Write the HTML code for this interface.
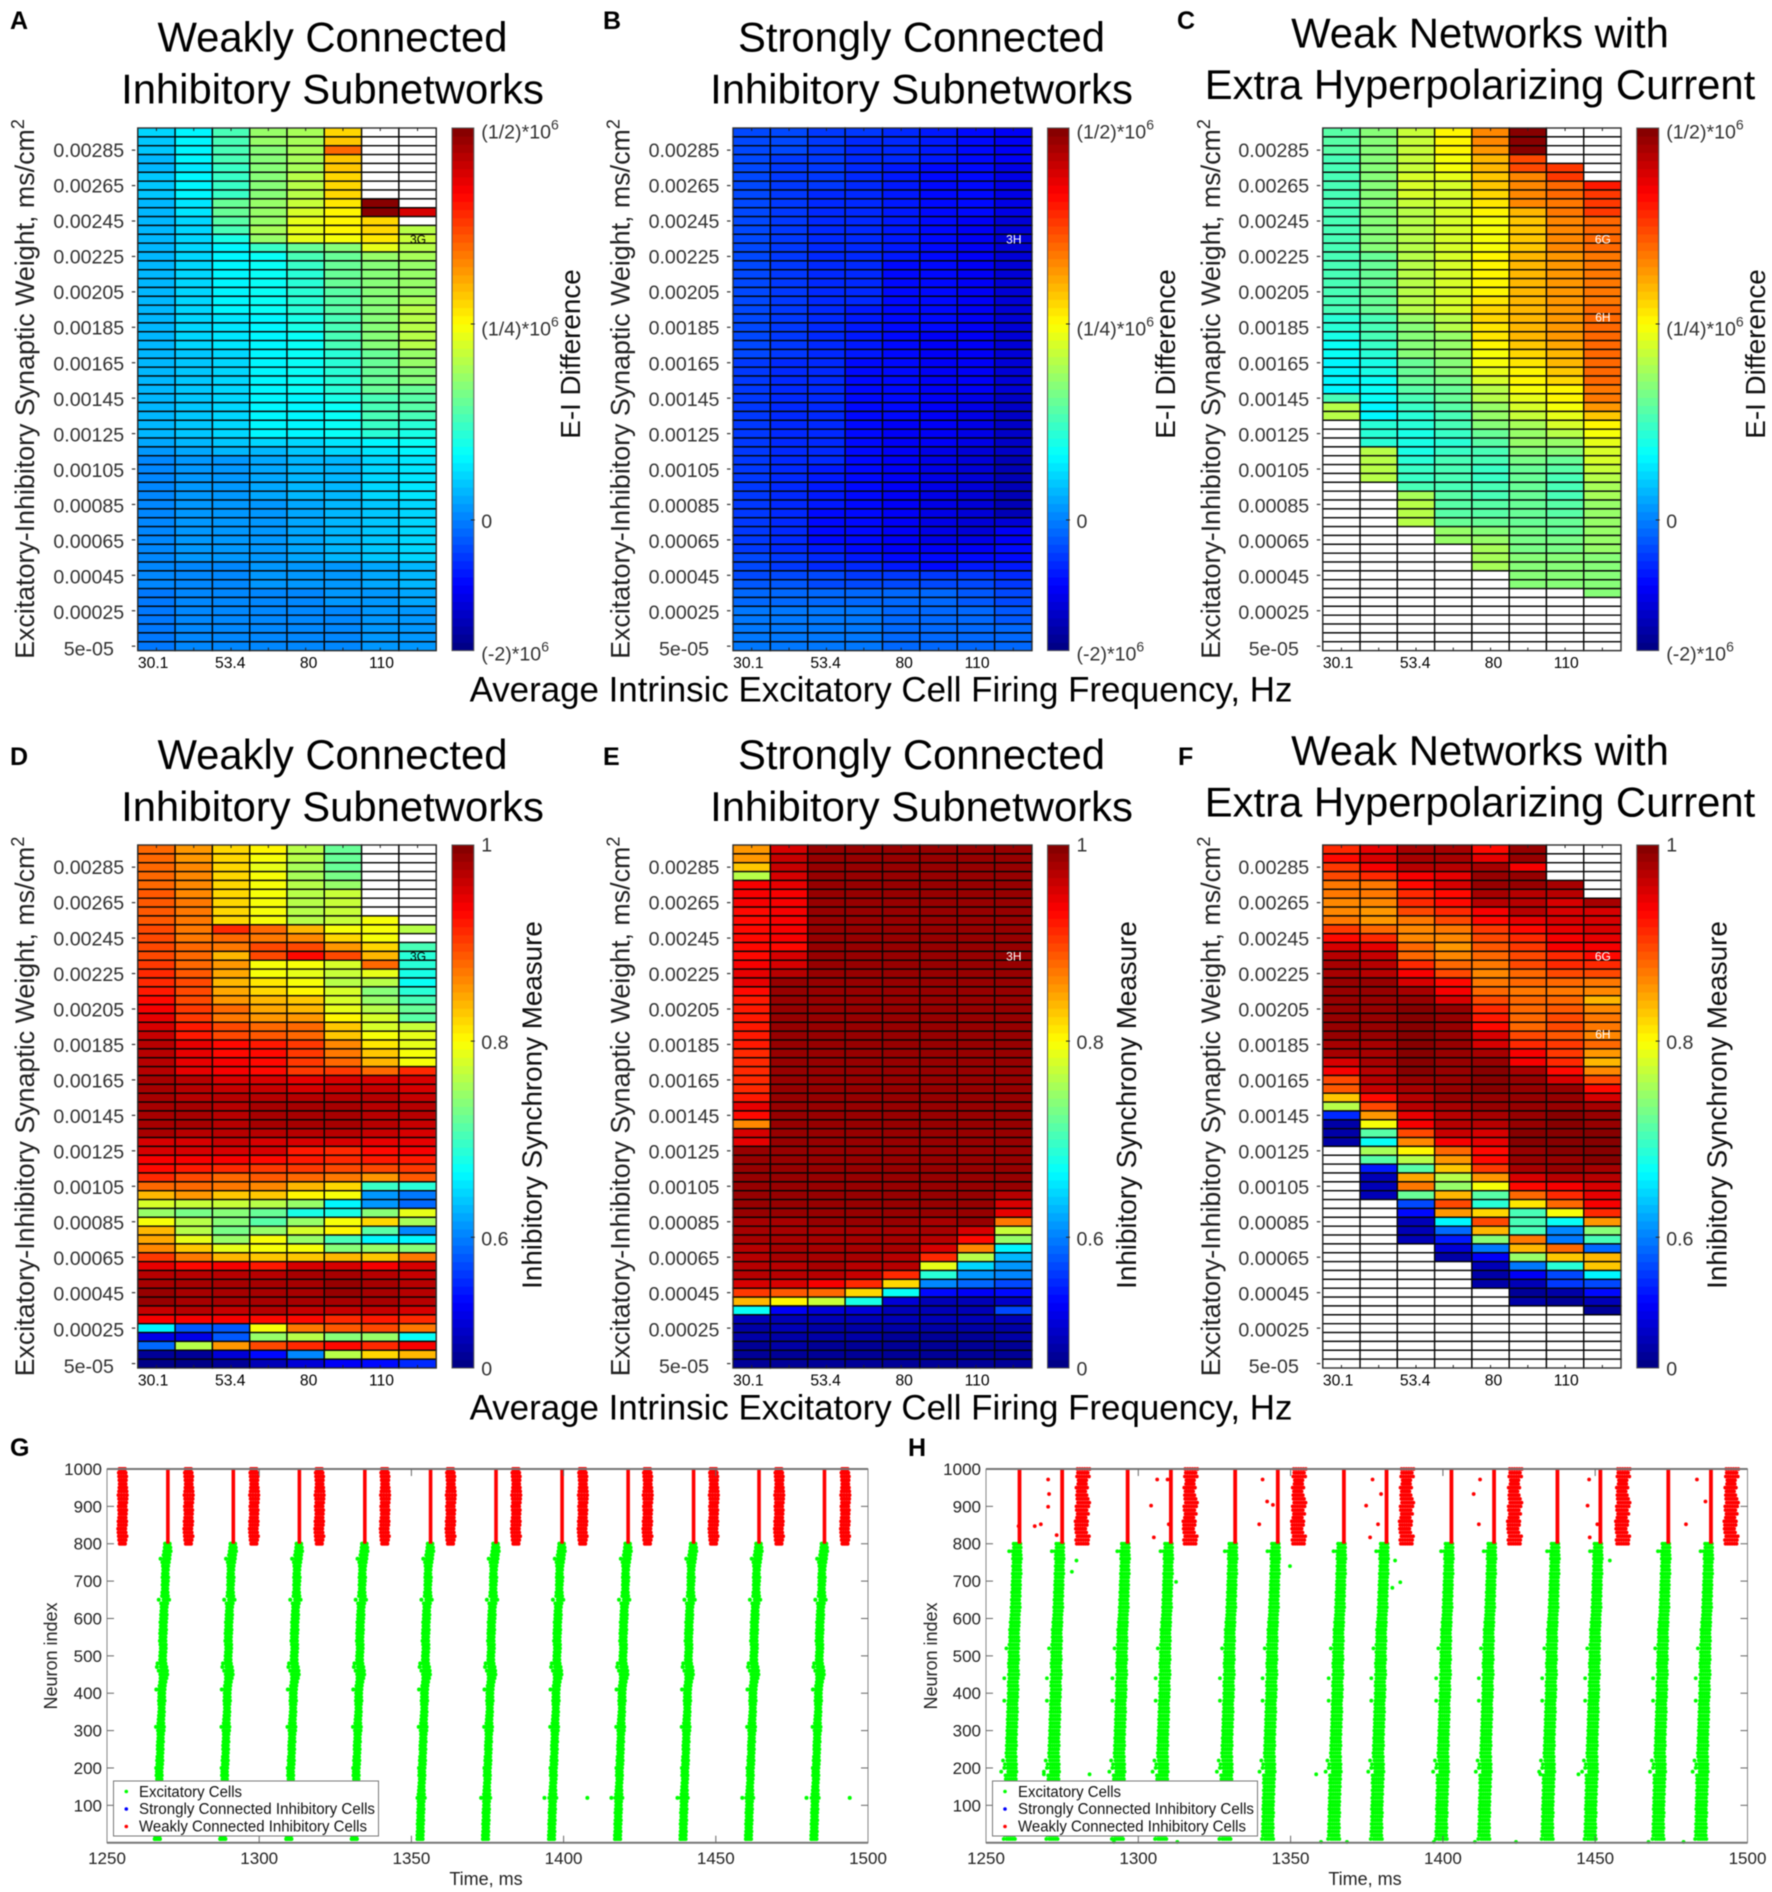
<!DOCTYPE html>
<html lang="en">
<head>
<meta charset="utf-8">
<title>Inhibitory synchrony heatmaps and raster plots</title>
<style>
html,body{margin:0;padding:0;background:#fff;}
svg{display:block;font-family:"Liberation Sans",sans-serif;filter:blur(0.4px);}
.title{font-size:41.8px;fill:#000;text-anchor:middle;}
.letter{font-size:25px;font-weight:bold;fill:#000;}
.ylab{font-size:26.8px;fill:#222;text-anchor:middle;}
.cblab{font-size:27.8px;fill:#111;text-anchor:middle;}
.xlab{font-size:34.9px;fill:#000;text-anchor:middle;}
.tick{font-size:19.6px;fill:#333;}
.cbt{font-size:19.6px;fill:#333;}
.xt{font-size:15.7px;fill:#000;text-anchor:middle;}
.note{font-size:12px;text-anchor:middle;}
.rt{font-size:17px;fill:#222;}
.rlab{font-size:18px;fill:#222;text-anchor:middle;}
.leg{font-size:15.5px;fill:#111;}
</style>
</head>
<body>
<svg id="figure" xmlns="http://www.w3.org/2000/svg" width="1772" height="1892" viewBox="0 0 1772 1892">
<rect width="1772" height="1892" fill="#fff"/>

<text class="letter" x="10" y="29">A</text>
<text class="title" x="332.5" y="51.5">Weakly Connected</text>
<text class="title" x="332.5" y="103.5">Inhibitory Subnetworks</text>
<text class="ylab" x="34" y="389" transform="rotate(-90 34 389)">Excitatory-Inhibitory Synaptic Weight, ms/cm<tspan dy="-10" font-size="18">2</tspan></text>
<text class="cblab" x="580" y="354" transform="rotate(-90 580 354)">E-I Difference</text>
<g id="panel-a"></g>

<text class="letter" x="603" y="29">B</text>
<text class="title" x="921.5" y="51.5">Strongly Connected</text>
<text class="title" x="921.5" y="103.5">Inhibitory Subnetworks</text>
<text class="ylab" x="629.5" y="389" transform="rotate(-90 629.5 389)">Excitatory-Inhibitory Synaptic Weight, ms/cm<tspan dy="-10" font-size="18">2</tspan></text>
<text class="cblab" x="1175" y="354" transform="rotate(-90 1175 354)">E-I Difference</text>
<g id="panel-b"></g>

<text class="letter" x="1177" y="29">C</text>
<text class="title" x="1480" y="47.5">Weak Networks with</text>
<text class="title" x="1480" y="99">Extra Hyperpolarizing Current</text>
<text class="ylab" x="1220" y="389" transform="rotate(-90 1220 389)">Excitatory-Inhibitory Synaptic Weight, ms/cm<tspan dy="-10" font-size="18">2</tspan></text>
<text class="cblab" x="1765" y="354" transform="rotate(-90 1765 354)">E-I Difference</text>
<g id="panel-c"></g>

<text class="xlab" x="881" y="701.5">Average Intrinsic Excitatory Cell Firing Frequency, Hz</text>

<text class="letter" x="10" y="765">D</text>
<text class="title" x="332.5" y="769">Weakly Connected</text>
<text class="title" x="332.5" y="821">Inhibitory Subnetworks</text>
<text class="ylab" x="34" y="1106.5" transform="rotate(-90 34 1106.5)">Excitatory-Inhibitory Synaptic Weight, ms/cm<tspan dy="-10" font-size="18">2</tspan></text>
<text class="cblab" x="541.5" y="1105" transform="rotate(-90 541.5 1105)">Inhibitory Synchrony Measure</text>
<g id="panel-d"></g>

<text class="letter" x="603" y="765">E</text>
<text class="title" x="921.5" y="769">Strongly Connected</text>
<text class="title" x="921.5" y="821">Inhibitory Subnetworks</text>
<text class="ylab" x="629.5" y="1106.5" transform="rotate(-90 629.5 1106.5)">Excitatory-Inhibitory Synaptic Weight, ms/cm<tspan dy="-10" font-size="18">2</tspan></text>
<text class="cblab" x="1136" y="1105" transform="rotate(-90 1136 1105)">Inhibitory Synchrony Measure</text>
<g id="panel-e"></g>

<text class="letter" x="1178" y="765">F</text>
<text class="title" x="1480" y="765">Weak Networks with</text>
<text class="title" x="1480" y="816.5">Extra Hyperpolarizing Current</text>
<text class="ylab" x="1220" y="1106.5" transform="rotate(-90 1220 1106.5)">Excitatory-Inhibitory Synaptic Weight, ms/cm<tspan dy="-10" font-size="18">2</tspan></text>
<text class="cblab" x="1726.5" y="1105" transform="rotate(-90 1726.5 1105)">Inhibitory Synchrony Measure</text>
<g id="panel-f"></g>

<text class="xlab" x="881" y="1419.5">Average Intrinsic Excitatory Cell Firing Frequency, Hz</text>

<text class="letter" x="10" y="1456">G</text>
<text class="rlab" x="57" y="1656" transform="rotate(-90 57 1656)">Neuron index</text>
<text class="rlab" x="486" y="1885">Time, ms</text>
<g id="raster-g"></g>
<g>
<rect x="113.5" y="1781" width="265" height="55" fill="#fff" stroke="#777" stroke-width="1"/>
<circle cx="126.3" cy="1791.5" r="1.8" fill="#00ff00"/>
<text class="leg" x="139" y="1797" textLength="103" lengthAdjust="spacingAndGlyphs">Excitatory Cells</text>
<circle cx="126.3" cy="1809" r="1.8" fill="#0000ff"/>
<text class="leg" x="139" y="1814" textLength="236" lengthAdjust="spacingAndGlyphs">Strongly Connected Inhibitory Cells</text>
<circle cx="126.3" cy="1826.5" r="1.8" fill="#ff0000"/>
<text class="leg" x="139" y="1831.5" textLength="228" lengthAdjust="spacingAndGlyphs">Weakly Connected Inhibitory Cells</text>
</g>

<text class="letter" x="908" y="1456">H</text>
<text class="rlab" x="937" y="1656" transform="rotate(-90 937 1656)">Neuron index</text>
<text class="rlab" x="1365" y="1885">Time, ms</text>
<g id="raster-h"></g>
<g>
<rect x="992.5" y="1781" width="265" height="55" fill="#fff" stroke="#777" stroke-width="1"/>
<circle cx="1005" cy="1791.5" r="1.8" fill="#00ff00"/>
<text class="leg" x="1018" y="1797" textLength="103" lengthAdjust="spacingAndGlyphs">Excitatory Cells</text>
<circle cx="1005" cy="1809" r="1.8" fill="#0000ff"/>
<text class="leg" x="1018" y="1814" textLength="236" lengthAdjust="spacingAndGlyphs">Strongly Connected Inhibitory Cells</text>
<circle cx="1005" cy="1826.5" r="1.8" fill="#ff0000"/>
<text class="leg" x="1018" y="1831.5" textLength="228" lengthAdjust="spacingAndGlyphs">Weakly Connected Inhibitory Cells</text>
</g>
</svg>

<script>
const _ = null;
/* ---- heatmap values: colour-scale level 0-100, one array per frequency column, rows listed top to bottom ---- */
const yTickLabels = ['5e-05','0.00025','0.00045','0.00065','0.00085','0.00105','0.00125','0.00145','0.00165','0.00185','0.00205','0.00225','0.00245','0.00265','0.00285'];
const xTickLabels = ['30.1','53.4','80','110'];
const eiBarLabels = ['(-2)*10','0','(1/4)*10','(1/2)*10'];
const syncBarLabels = ['0','0.6','0.8','1'];

const weakEI = [
[33,32,32,31,31,32,32,32,31,31, 31,31,31,31,31,31,31,31,31,31, 31,31,31,31,31,30,30,30,30,30, 30,30,30,30,30,29,28,26,26,26, 26,26,26,26,26,26,26,26,26,25, 25,25,24,24,24,24,24,24,24],
[37,37,36,36,35,37,37,36,35,35, 34,34,34,34,33,33,33,33,33,33, 33,33,33,33,33,32,32,32,32,32, 32,32,32,32,32,30,29,27,27,27, 27,27,27,27,27,27,27,27,27,26, 26,26,25,25,25,25,25,25,25],
[44,44,44,44,43,43,43,43,47,47, 46,45,40,37,36,36,36,36,36,36, 36,35,35,35,35,34,34,34,34,34, 34,34,34,34,34,32,30,28,28,28, 28,28,28,28,28,28,28,28,28,26, 26,26,25,25,25,25,25,25,25],
[52,52,51,50,50,50,50,50,53,53, 53,54,53,43,39,38,38,38,38,38, 38,37,37,37,37,36,36,36,36,36, 36,36,36,36,36,33,31,29,29,29, 29,29,28,28,28,28,28,28,28,27, 27,27,26,25,25,25,25,25,25],
[54,54,54,54,54,55,55,55,57,58, 60,60,60,47,44,43,42,42,42,41, 41,40,40,39,39,38,38,38,38,38, 37,37,37,37,37,34,32,30,30,30, 30,30,29,29,29,29,29,29,29,27, 27,27,26,26,26,26,26,26,26],
[67,68,78,68,68,66,66,66,65,64, 63,63,62,50,48,47,47,47,46,46, 46,45,45,45,45,42,42,42,42,42, 40,39,39,39,38,35,33,31,31,31, 31,31,30,30,30,30,30,30,30,28, 28,28,27,27,26,26,26,26,26],
[_,_,_,_,_,_,_,_,100,100, 66,66,65,60,52,50,50,50,50,50, 50,50,50,50,50,47,47,47,47,47, 44,44,44,43,42,37,35,33,33,33, 33,33,32,32,32,32,32,32,32,29, 29,29,27,27,27,27,27,27,27],
[_,_,_,_,_,_,_,_,_,91, _,56,57,56,54,53,53,53,53,54, 55,56,56,56,56,52,52,51,50,48, 46,46,44,42,40,38,36,35,35,35, 35,35,34,34,34,34,34,34,34,31, 31,30,29,29,28,28,28,28,28]
];
const strongEI = [
[20,19,19,19,20,20,20,19,19,19, 19,19,19,19,19,19,19,19,19,19, 19,19,19,19,19,19,18,18,18,18, 18,18,18,18,18,18,18,18,18,18, 18,18,18,18,18,18,18,18,19,19, 20,21,23,23,24,24,24,24,24],
[19,19,19,18,18,18,18,18,18,18, 18,18,18,18,18,18,18,18,18,18, 18,18,18,18,18,18,17,17,17,17, 17,17,17,17,17,17,17,17,17,17, 16,16,16,16,16,16,16,17,18,18, 20,21,23,23,24,24,24,24,24],
[18,18,18,18,18,18,18,17,17,17, 17,17,17,17,17,17,17,17,17,17, 17,17,17,17,17,17,16,16,16,16, 16,16,16,16,16,16,16,16,15,15, 15,15,15,14,14,14,14,15,16,17, 19,20,23,23,24,24,24,24,24],
[18,17,17,17,17,17,17,17,16,16, 16,16,16,16,16,16,16,16,16,16, 15,15,15,15,15,15,14,14,14,14, 14,14,14,14,14,14,14,14,13,13, 13,13,13,13,13,13,13,14,15,16, 18,19,23,23,24,24,24,24,24],
[17,17,16,16,15,15,15,15,15,15, 15,15,15,15,15,14,14,14,14,14, 14,14,14,14,14,13,13,13,13,13, 13,13,13,12,12,12,12,12,12,12, 11,11,11,11,11,11,11,12,14,15, 18,19,23,23,23,23,23,23,23],
[15,15,15,15,14,14,14,14,14,14, 14,14,13,13,13,13,13,13,13,13, 13,13,13,12,12,12,12,12,12,12, 11,11,11,11,11,11,10,10,10,10, 10,10,10,10,10,10,10,11,13,14, 18,19,22,22,23,23,23,23,23],
[14,14,14,14,13,13,13,13,13,13, 12,12,12,12,12,12,12,12,11,11, 11,11,11,11,11,11,11,11,11,11, 10,10,10,10,10,10,9,9,9,9, 8,8,8,8,9,9,10,11,13,15, 18,19,21,21,22,22,23,23,23],
[11,11,11,11,10,10,10,10,10,10, 9,9,9,9,9,9,9,9,8,8, 8,8,8,8,8,8,8,8,8,8, 7,7,7,7,7,7,7,6,6,6, 6,6,6,6,8,12,12,13,14,15, 17,18,20,20,21,21,22,22,22]
];
const hyperEI = [
[46,46,46,45,45,45,45,45,45,45, 45,45,45,45,45,45,44,44,44,44, 44,42,42,40,38,38,37,36,36,36, 44,56,55,_,_,_,_,_,_,_, _,_,_,_,_,_,_,_,_,_, _,_,_,_,_,_,_,_,_],
[50,50,51,51,51,51,51,51,51,51, 51,50,50,50,48,48,48,48,48,47, 47,44,44,44,43,41,40,40,39,38, 38,36,36,42,42,42,55,56,56,55, _,_,_,_,_,_,_,_,_,_, _,_,_,_,_,_,_,_,_],
[57,57,57,57,57,58,58,58,57,56, 56,56,56,56,56,56,56,55,55,55, 55,52,50,50,50,50,48,47,47,46, 44,43,42,41,40,40,40,42,43,43, 44,54,55,55,55,_,_,_,_,_, _,_,_,_,_,_,_,_,_],
[64,63,63,62,62,60,59,59,59,59, 59,59,59,59,59,58,58,58,58,58, 58,56,55,52,52,52,51,50,49,48, 47,46,45,44,43,42,43,44,44,45, 45,46,46,46,48,53,53,_,_,_, _,_,_,_,_,_,_,_,_],
[74,74,72,70,69,68,68,67,65,64, 62,62,62,62,63,63,63,64,64,65, 66,66,65,65,64,62,61,60,58,56, 55,53,52,50,48,46,45,44,43,43, 44,45,46,46,48,50,52,54,54,54, _,_,_,_,_,_,_,_,_],
[100,100,100,80,80,74,74,74,74,70, 68,68,68,68,69,69,69,70,70,70, 70,70,70,69,68,66,65,64,63,62, 60,58,57,54,53,52,50,49,48,48, 47,47,47,48,48,49,49,49,50,50, 50,50,_,_,_,_,_,_,_],
[_,_,_,_,82,82,78,78,76,75, 74,74,74,74,73,73,73,73,73,73, 73,73,73,72,71,70,69,68,66,64, 63,62,60,58,55,52,50,47,46,44, 44,45,46,46,47,48,49,49,50,50, 50,50,_,_,_,_,_,_,_],
[_,_,_,_,_,_,85,82,82,82, 78,78,77,77,76,76,76,76,76,76, 77,77,77,77,78,78,78,78,78,76, 75,72,68,64,62,60,59,58,57,56, 54,54,53,53,52,52,52,52,51,51, 51,51,50,_,_,_,_,_,_]
];
const weakSync = [
[77,77,78,78,78,79,79,79,79,80, 80,81,81,82,83,84,85,87,89,90, 91,93,94,94,95,95,96,96,96,96, 96,96,96,92,92,89,87,83,77,70, 58,52,62,69,71,74,82,90,95,96, 97,97,93,88,37,10,22,3,1],
[73,73,74,74,74,74,75,75,75,75, 76,77,77,78,79,80,80,80,82,82, 85,85,90,90,90,90,94,95,95,96, 96,96,95,92,92,89,85,80,77,72, 57,49,56,56,60,68,76,87,95,96, 96,96,94,88,21,10,56,3,1],
[67,67,67,66,66,66,66,66,66,84, 78,76,69,72,71,70,71,72,78,76, 80,80,87,87,88,88,92,93,94,95, 95,95,94,93,92,88,84,78,76,68, 57,50,50,49,52,60,70,88,94,96, 96,96,93,88,21,21,72,8,3],
[63,62,60,62,62,62,62,62,62,78, 76,80,80,62,62,65,67,70,71,72, 77,79,85,86,87,87,92,93,95,96, 96,96,95,92,92,86,82,79,74,68, 56,48,46,53,61,62,68,85,95,96, 96,96,94,87,62,52,80,14,6],
[55,55,54,54,55,55,56,56,56,70, 74,80,86,62,60,62,64,68,70,73, 78,78,82,82,82,82,90,92,94,96, 96,96,95,92,85,85,82,78,70,64, 52,40,52,58,53,62,68,92,96,96, 96,96,93,86,76,55,83,25,8],
[47,47,48,49,52,57,57,57,57,62, 66,72,81,59,57,56,58,59,60,63, 68,68,74,76,78,82,92,93,94,96, 96,96,95,92,84,84,80,76,66,62, 36,40,62,63,44,50,70,92,96,97, 97,96,93,84,79,50,86,56,12],
[_,_,_,_,_,_,_,_,62,62, 62,66,69,78,60,56,50,53,56,58, 59,62,65,68,70,78,92,93,94,95, 95,94,93,90,86,85,80,73,43,27, 27,50,66,46,37,52,68,88,95,96, 96,96,93,85,80,52,84,66,13],
[_,_,_,_,_,_,_,_,_,55, _,45,42,41,40,38,42,44,48,46, 57,60,60,62,61,84,92,92,93,94, 94,93,92,90,88,85,82,79,41,24, 22,60,54,25,36,50,75,92,93,94, 94,94,92,84,76,38,88,70,16]
];
const strongSync = [
[72,72,68,56,88,88,88,87,87,87, 87,87,87,88,90,90,86,85,85,85, 85,85,85,83,83,84,84,84,85,90, 87,74,92,90,97,97,97,97,97,97, 97,97,96,96,96,95,95,95,94,92, 82,69,38,5,4,4,3,3,3],
[92,93,93,92,90,88,88,88,88,88, 88,86,92,92,94,97,97,97,97,97, 97,97,97,97,97,97,97,97,97,97, 97,97,97,97,97,97,97,97,97,97, 97,97,96,96,96,96,96,95,94,92, 79,64,12,5,5,4,4,3,3],
[97,97,97,97,97,97,98,98,98,98, 98,98,98,98,98,98,98,98,98,98, 98,97,97,97,97,97,97,97,97,97, 97,97,97,97,97,97,97,97,97,97, 97,97,97,96,96,96,96,96,94,88, 77,57,8,5,4,4,3,3,3],
[97,98,98,98,98,98,98,98,98,98, 98,98,98,98,98,98,98,98,98,98, 98,98,98,97,97,97,97,97,97,97, 97,97,97,97,97,97,97,97,97,97, 97,97,97,96,96,96,96,95,93,83, 67,40,8,5,4,4,3,3,3],
[98,98,98,98,98,98,98,98,98,98, 98,98,98,98,98,98,98,98,98,98, 98,98,98,98,98,98,98,98,98,98, 98,98,98,98,97,97,97,97,97,97, 97,97,97,96,96,96,95,94,84,67, 38,8,6,5,4,3,3,2,2],
[98,98,98,98,98,98,98,98,98,98, 98,98,98,98,98,98,98,98,98,98, 98,98,98,98,98,98,98,98,98,98, 98,98,98,98,97,97,97,97,97,97, 97,97,96,96,94,92,84,60,41,26, 14,6,6,5,4,3,3,2,2],
[98,98,98,98,98,98,98,98,98,98, 98,98,98,98,98,98,98,98,98,98, 98,98,98,98,98,98,98,98,98,98, 98,98,98,98,97,97,97,97,97,97, 97,97,97,91,87,74,55,33,28,23, 12,5,6,5,4,3,3,2,2],
[97,97,97,98,98,98,98,98,98,98, 98,98,97,97,97,97,97,97,97,97, 97,97,97,97,97,97,97,97,97,97, 97,97,97,97,97,97,97,97,97,94, 92,90,75,57,52,36,30,27,25,20, 14,7,20,5,4,4,3,3,2]
];
const hyperSync = [
[84,86,82,80,75,76,74,74,76,82, 87,92,95,96,96,97,97,97,97,97, 97,97,96,96,92,88,80,79,68,56, 17,4,4,4,_,_,_,_,_,_, _,_,_,_,_,_,_,_,_,_, _,_,_,_,_,_,_,_,_],
[90,92,88,84,76,76,74,73,73,78, 84,90,93,94,95,98,98,98,97,97, 97,97,96,96,96,95,94,93,86,81, 73,62,46,38,54,46,15,5,5,5, _,_,_,_,_,_,_,_,_,_, _,_,_,_,_,_,_,_,_],
[96,96,94,88,87,84,84,80,76,74, 74,77,78,84,88,92,96,97,100,100, 100,100,100,100,99,99,98,96,95,94, 90,88,80,74,64,56,46,71,76,47, 20,13,5,5,5,_,_,_,_,_, _,_,_,_,_,_,_,_,_],
[96,96,95,90,91,86,86,83,80,76, 74,73,74,78,80,86,88,92,98,98, 98,98,98,98,98,98,98,98,97,96, 95,94,93,88,78,72,68,56,52,70, 80,72,37,23,15,8,4,_,_,_, _,_,_,_,_,_,_,_,_],
[86,90,96,98,97,96,94,88,86,82, 81,79,78,75,74,76,78,80,84,85, 86,92,92,96,98,99,99,99,98,98, 96,94,92,90,87,87,82,72,62,46, 42,66,81,69,50,24,12,5,4,4, _,_,_,_,_,_,_,_,_],
[97,97,88,97,97,94,94,94,90,86, 84,82,81,80,78,77,76,78,78,78, 78,81,84,88,88,96,97,97,97,98, 98,98,99,99,98,98,96,92,86,78, 65,44,44,45,76,70,52,24,12,6, 3,4,_,_,_,_,_,_,_],
[_,_,_,_,96,94,92,92,91,90, 88,88,84,84,81,78,76,77,79,80, 80,79,82,82,84,86,92,97,98,98, 99,99,99,99,99,98,98,95,88,84, 78,62,38,26,24,78,68,42,20,18, 4,3,_,_,_,_,_,_,_],
[_,_,_,_,_,_,96,92,92,92, 90,88,87,84,80,76,74,70,74,76, 76,74,78,72,70,74,80,86,92,96, 98,98,99,100,100,99,96,94,92,90, 88,84,73,50,44,22,70,68,36,19, 13,5,3,_,_,_,_,_,_]
];

/* ---- raster values, in ms and neuron index ---- */
const rasterXTicks = [1250,1300,1350,1400,1450,1500];
const rasterYTicks = [100,200,300,400,500,600,700,800,900,1000];
const gBurstTimes = [1270,1291.5,1313.2,1334.7,1356.3,1377.8,1399.5,1421.2,1442.7,1464.2,1485.7];
const gWeakTimes = [1255.1,1276.8,1298.3,1319.8,1341.3,1362.9,1384.4,1406.3,1427.6,1449.3,1470.8,1492.5];
/* excitatory burst edge relative to burst time, neuron 800 down to 10 in steps of 10 */
const gExcLeft = [-0.9,-1.0,-1.2,-1.4,-2.4,-1.8,-1.6,-1.5,-1.6,-1.7, -1.6,-1.7,-1.6,-1.8,-1.9,-3.0,-2.2,-2.0,-2.1,-2.2, -2.2,-2.4,-2.3,-2.4,-2.5,-2.4,-2.6,-2.4,-2.3,-2.4, -2.5,-2.5,-3.4,-3.6,-3.0,-2.5,-2.4,-2.5,-2.7,-3.8, -2.8,-2.8,-2.9,-2.8,-2.7,-2.8,-2.9,-3.0,-3.1,-3.9, -3.2,-3.1,-3.1,-3.2,-3.3,-3.3,-3.2,-3.4,-3.5,-3.4, -3.8,-3.6,-3.7,-3.5,-3.6,-3.7,-3.8,-3.9,-4.2,-3.9, -3.9,-4.0,-4.1,-4.0,-4.1,-4.2,-4.1,-4.2,-4.3,-4.3];
const gExcRight = [0.6,0.8,0.9,0.6,0.5,0.3,0.1,0.0,-0.1,0.1, 0.0,-0.1,-0.2,-0.1,0.0,0.4,-0.2,-0.4,-0.5,-0.4, -0.5,-0.6,-0.7,-0.6,-0.7,-0.8,-0.8,-0.7,-0.7,-0.8, -0.9,-0.9,-0.8,-0.5,-0.3,-0.2,-0.5,-0.8,-1.0,-1.1, -1.2,-1.2,-1.1,-1.3,-1.4,-1.3,-1.4,-1.5,-1.5,-1.3, -1.4,-1.6,-1.7,-1.6,-1.8,-1.7,-1.8,-1.9,-1.8,-1.9, -2.0,-2.1,-2.0,-2.1,-2.2,-2.3,-2.2,-2.2,-1.9,-2.3, -2.4,-2.3,-2.4,-2.5,-2.4,-2.5,-2.6,-2.5,-2.6,-2.6];
/* weak inhibitory cluster edge relative to cluster time, neuron 800 up to 1000 in steps of 10 */
const gWeakLeft = [-0.9,-1.1,-1.2,-1.3,-1.4,-1.2,-1.3,-1.1,-1.0,-1.1,-1.2,-1.0,-1.1,-1.3,-1.1,-1.0,-0.9,-1.0,-1.1,-1.2,-1.0];
const gWeakRight = [0.8,1.0,1.3,1.0,0.9,1.1,1.2,1.0,1.1,1.2,1.0,1.2,1.3,1.4,1.3,1.2,1.0,1.1,1.2,1.0,0.8];
const gStrayTimes = [1352,1372.9,1393.7,1407.8,1415.7,1437.4,1458.7,1479.8,1494];
const gStrayNeurons = [120,120,120,120,120,120,120,120,120];

const hBurstTimes = [1261,1275,1296.5,1310.7,1331.8,1345.8,1367.5,1381.5,1402.8,1416.8,1437.6,1451.7,1474,1488];
const hWeakTimes = [1281.6,1317,1352.6,1388,1423.5,1459,1494.6];
const hExcLeft = [-1.9,-1.8,-3.4,-2.0,-2.1,-1.9,-2.1,-2.0,-2.2,-2.1, -2.2,-2.3,-2.2,-2.4,-2.3,-2.5,-2.4,-2.6,-2.5,-2.6, -2.7,-2.9,-2.8,-3.1,-3.0,-3.1,-3.0,-3.3,-4.3,-3.3, -3.2,-3.3,-3.5,-3.4,-3.2,-3.5,-5.0,-3.5,-3.6,-3.4, -3.6,-3.5,-5.0,-3.7,-3.6,-3.8,-3.7,-3.9,-3.8,-3.9, -4.0,-3.9,-4.1,-4.0,-4.2,-4.1,-4.3,-4.2,-5.4,-4.8, -5.0,-6.0,-4.6,-4.5,-4.6,-4.4,-4.6,-4.5,-4.7,-4.6, -4.7,-4.8,-4.6,-4.8,-4.7,-4.9,-4.8,-5.0,-4.9,-5.2];
const hExcRight = [0.3,0.4,0.3,0.4,0.5,0.3,0.2,0.3,0.4,0.2, 0.1,0.2,0.1,0.0,0.1,-0.1,0.0,0.1,-0.1,-0.2, -0.3,-0.2,-0.3,-0.4,-0.5,-0.4,-0.3,-0.5,-0.4,-0.6, -0.5,-0.4,-0.6,-0.7,-0.5,-0.4,-0.6,-0.8,-0.7,-0.6, -0.8,-0.7,-0.9,-1.0,-0.9,-0.8,-1.0,-0.9,-1.1,-1.0, -1.2,-1.1,-1.3,-1.2,-1.1,-1.3,-1.4,-1.2,-1.3,-1.1, -1.2,-1.0,-1.3,-1.2,-1.4,-1.3,-1.5,-1.4,-1.6,-1.5, -1.6,-1.7,-1.5,-1.6,-1.8,-1.7,-1.6,-1.8,-1.7,-1.5];
const hWeakLeft = [-1.8,-2.0,-1.6,-1.9,-2.1,-2.0,-2.2,-1.7,-1.5,-1.8,-1.9,-1.4,-1.6,-1.7,-1.5,-1.9,-1.3,-1.2,-1.7,-1.4,-1.6];
const hWeakRight = [1.8,1.9,2.2,1.3,1.0,1.5,1.6,1.1,1.9,1.4,2.0,2.3,1.8,1.4,1.0,1.6,1.2,1.3,2.2,1.8,2.4];
const hStrayGreenTimes = [1279.7,1278.2,1312.4,1349.8,1384.3,1386,1383.4,1454.8,1284,1269,1358.4,1444.5,1432,1292,1312.8,1360,1368.5,1397,1410.5,1424,1467.5,1479];
const hStrayGreenNeurons = [755,725,698,740,755,697,682,755,183,183,183,183,183,2,2,2,2,2,2,2,2,2];
const hStrayRedTimes = [1270.4,1270.7,1270.4,1266,1268,1260.7,1273.2,1306.2,1304.2,1305.1,1310,1309.6,1340.8,1342.3,1339.7,1344.2,1376.9,1379.7,1374.8,1378.7,1376.1,1412.2,1410.1,1411.8,1448,1447.5,1448.2,1450.7,1483.4,1479.8,1486.2];
const hStrayRedNeurons = [972,933,899,847,852,847,823,972,902,817,852,972,972,913,852,904,972,933,902,852,817,972,933,852,972,902,817,852,972,852,913];

const NS = 'http://www.w3.org/2000/svg';
function make(tag, parent, attrs, name) {
  const node = document.createElementNS(NS, tag);
  for (const k in attrs) node.setAttribute(k, attrs[k]);
  
  
  parent.appendChild(node);
  return node;
}
function jet(level) {
  const idx = Math.min(63, Math.max(0, Math.floor(level / 100 * 64)));
  const t = (idx + 0.5) / 64;
  const c = v => Math.round(255 * Math.max(0, Math.min(1, v)));
  const r = c(Math.min(4 * t - 1.5, -4 * t + 4.5));
  const g = c(Math.min(4 * t - 0.5, -4 * t + 3.5));
  const b = c(Math.min(4 * t + 0.5, -4 * t + 2.5));
  return 'rgb(' + r + ',' + g + ',' + b + ')';
}

function drawHeatmap(id, columns, box, barLabels, notes, barExp, barYOffsets) {
  const root = document.getElementById(id);
  const nCols = columns.length, nRows = 59;
  const colW = box.w / nCols, rowH = box.h / nRows;
  const xOf = c => box.x + c * colW;
  const yOf = r => box.y + r * rowH;
  columns.forEach((column, c) => {
    for (let r = 0; r < nRows; r++) {
      const value = column[r];
      const fill = (value === null || value === undefined) ? '#ffffff' : jet(value);
      make('rect', root, {x: xOf(c), y: yOf(r), width: colW, height: rowH, fill: fill, stroke: '#050505', 'stroke-width': 1.35}, 'heatmap-cell');
    }
  });
  make('rect', root, {x: box.x, y: box.y, width: box.w, height: box.h, fill: 'none', stroke: '#333', 'stroke-width': 1}, 'plot-frame');
  for (let c = 0; c < nCols; c++) {
    const cx = xOf(c + 0.5);
    make('line', root, {x1: cx, x2: cx, y1: box.y, y2: box.y + 3, stroke: '#222', 'stroke-width': 1}, 'x-tick-top');
    make('line', root, {x1: cx, x2: cx, y1: box.y + box.h, y2: box.y + box.h - 3, stroke: '#222', 'stroke-width': 1}, 'x-tick-bottom');
  }
  yTickLabels.forEach((label, i) => {
    const y = yOf(nRows - 0.5 - i * 4);
    make('line', root, {x1: box.x - 6, x2: box.x - 2.5, y1: y, y2: y, stroke: '#333', 'stroke-width': 1.2}, 'y-tick');
    const labelShift = 7 + (14 - i) * 0.09 + (i === 0 ? 1.2 : 0);
    const t = make('text', root, {x: box.x - 49, y: y + labelShift, 'class': 'tick', 'text-anchor': 'middle'}, 'y-tick-label');
    t.textContent = label;
  });
  const nudges = [-3.3, -0.8, 3, 1.2];
  xTickLabels.forEach((label, i) => {
    const t = make('text', root, {x: xOf(i * 2 + 0.5) + nudges[i], y: box.y + box.h + 17.5, 'class': 'xt'}, 'x-tick-label');
    t.textContent = label;
  });
  notes.forEach(n => {
    const t = make('text', root, {x: xOf(7.5) + 0.5, y: yOf(n.row + 0.5) + 4, 'class': 'note', fill: n.color}, 'panel-reference-label');
    t.textContent = n.text;
  });
  /* colorbar */
  const bh = box.h / 64;
  for (let i = 0; i < 64; i++) {
    const level = (i + 0.5) / 64 * 100;
    make('rect', root, {x: box.cbx, y: box.y + box.h - (i + 1) * bh, width: box.cbw, height: bh + 0.4, fill: jet(level)}, 'colorbar-segment');
  }
  make('rect', root, {x: box.cbx, y: box.y, width: box.cbw, height: box.h, fill: 'none', stroke: '#555', 'stroke-width': 1}, 'colorbar-frame');
  const tickFrac = [0, 0.25, 0.625, 1];
  barLabels.forEach((label, i) => {
    const y = box.y + box.h * (1 - tickFrac[i]);
    if (i > 0 && i < 3) {
      make('line', root, {x1: box.cbx + box.cbw - 3, x2: box.cbx + box.cbw + 1, y1: y, y2: y, stroke: '#222', 'stroke-width': 1}, 'colorbar-tick');
    }
    const t = make('text', root, {x: box.cbx + box.cbw + 7.5, y: y + barYOffsets[i], 'class': 'cbt'}, 'colorbar-tick-label');
    t.textContent = label;
    if (barExp && label.indexOf('*10') >= 0) {
      const sup = make('tspan', t, {dy: -9, 'font-size': 14}, 'colorbar-exponent');
      sup.textContent = '6';
    }
  });
}

const top1 = 128, h1 = 522.6, top2 = 845, h2 = 523;
const eiOffsets = [10, 8, 11.6, 10.5];
const syncOffsets = [7.5, 8, 8, 6.7];
drawHeatmap('panel-a', weakEI, {x:137.8, y:top1, w:298.4, h:h1, cbx:452, cbw:21.8}, eiBarLabels, [{text:'3G', row:12.1, color:'#000'}], true, eiOffsets);
drawHeatmap('panel-b', strongEI, {x:733, y:top1, w:299, h:h1, cbx:1047.5, cbw:21.5}, eiBarLabels, [{text:'3H', row:12.1, color:'#fff'}], true, eiOffsets);
drawHeatmap('panel-c', hyperEI, {x:1322.8, y:top1, w:298.2, h:h1, cbx:1636.8, cbw:21.9}, eiBarLabels, [{text:'6G', row:12.1, color:'#fff'},{text:'6H', row:20.9, color:'#fff'}], true, eiOffsets);
drawHeatmap('panel-d', weakSync, {x:137.8, y:top2, w:298.4, h:h2, cbx:452, cbw:21.8}, syncBarLabels, [{text:'3G', row:12.1, color:'#000'}], false, syncOffsets);
drawHeatmap('panel-e', strongSync, {x:733, y:top2, w:299, h:h2, cbx:1047.5, cbw:21.5}, syncBarLabels, [{text:'3H', row:12.1, color:'#fff'}], false, syncOffsets);
drawHeatmap('panel-f', hyperSync, {x:1322.8, y:top2, w:298.2, h:h2, cbx:1636.8, cbw:21.9}, syncBarLabels, [{text:'6G', row:12.1, color:'#fff'},{text:'6H', row:20.9, color:'#fff'}], false, syncOffsets);

function drawRaster(id, box, cfg) {
  const root = document.getElementById(id);
  const xOf = t => box.x + (t - 1250) / 250 * box.w;
  const yOf = n => box.y + (1000 - n) / 1000 * box.h;
  const r = cfg.r;
  const dot = (t, n, fill, name) => make('circle', root, {cx: xOf(t), cy: yOf(n), r: r, fill: fill}, name);
  cfg.burstTimes.forEach(b => {
    cfg.excLeft.forEach((left, i) => {
      const n = 800 - i * 10;
      const right = cfg.excRight[i];
      /* the edge spike is always drawn; the fill between edges stays in the dense core so lone outliers remain lone dots */
      dot(b + left, n, '#00ff00', 'excitatory-spike');
      const core = Math.max(left, right - cfg.coreWidth);
      for (let k = 0; k <= cfg.excSteps; k++) {
        dot(b + core + (right - core) * k / cfg.excSteps, n, '#00ff00', 'excitatory-spike');
      }
    });
    make('line', root, {x1: xOf(b), x2: xOf(b), y1: yOf(800), y2: yOf(1000), stroke: '#ff0000', 'stroke-width': cfg.lineW}, 'strong-inhibitory-volley');
  });
  cfg.weakTimes.forEach(b => {
    cfg.weakLeft.forEach((left, i) => {
      const n = 800 + i * 10;
      const right = cfg.weakRight[i];
      for (let k = 0; k <= cfg.weakSteps; k++) {
        dot(b + left + (right - left) * k / cfg.weakSteps, n, '#ff0000', 'inhibitory-spike');
      }
    });
  });
  cfg.strayGreenT.forEach((t, i) => dot(t, cfg.strayGreenN[i], '#00ff00', 'stray-excitatory-spike'));
  cfg.strayRedT.forEach((t, i) => dot(t, cfg.strayRedN[i], '#ff0000', 'stray-inhibitory-spike'));
  /* frame */
  make('rect', root, {x: box.x, y: box.y, width: box.w, height: box.h, fill: 'none', stroke: '#888', 'stroke-width': 1}, 'raster-frame');
  make('line', root, {x1: box.x, x2: box.x + box.w, y1: box.y, y2: box.y, stroke: '#777', 'stroke-width': 2}, 'raster-top-edge');
  make('line', root, {x1: box.x, x2: box.x + box.w, y1: box.y + box.h, y2: box.y + box.h, stroke: '#777', 'stroke-width': 2}, 'raster-bottom-edge');
  rasterXTicks.forEach(t => {
    const x = xOf(t);
    if (t > 1250 && t < 1500) {
      make('line', root, {x1: x, x2: x, y1: box.y, y2: box.y + 7, stroke: '#666', 'stroke-width': 1}, 'raster-x-tick');
      make('line', root, {x1: x, x2: x, y1: box.y + box.h, y2: box.y + box.h - 7, stroke: '#666', 'stroke-width': 1}, 'raster-x-tick');
    }
    const label = make('text', root, {x: x, y: box.y + box.h + 21.5, 'class': 'rt', 'text-anchor': 'middle'}, 'raster-x-tick-label');
    label.textContent = String(t);
  });
  rasterYTicks.forEach(n => {
    const y = yOf(n);
    if (n < 1000) {
      make('line', root, {x1: box.x, x2: box.x + 7, y1: y, y2: y, stroke: '#666', 'stroke-width': 1}, 'raster-y-tick');
      make('line', root, {x1: box.x + box.w, x2: box.x + box.w - 7, y1: y, y2: y, stroke: '#666', 'stroke-width': 1}, 'raster-y-tick');
    }
    const label = make('text', root, {x: box.x - 5, y: y + 6, 'class': 'rt', 'text-anchor': 'end'}, 'raster-y-tick-label');
    label.textContent = String(n);
  });
}

drawRaster('raster-g', {x:107, y:1469, w:761, h:373.7}, {
  r:2.0, lineW:3.6, excSteps:3, weakSteps:3, coreWidth:1.8,
  burstTimes:gBurstTimes, weakTimes:gWeakTimes,
  excLeft:gExcLeft, excRight:gExcRight, weakLeft:gWeakLeft, weakRight:gWeakRight,
  strayGreenT:gStrayTimes, strayGreenN:gStrayNeurons, strayRedT:[], strayRedN:[]
});
drawRaster('raster-h', {x:986, y:1469, w:761.5, h:373.7}, {
  r:1.9, lineW:3.8, excSteps:4, weakSteps:5, coreWidth:2.7,
  burstTimes:hBurstTimes, weakTimes:hWeakTimes,
  excLeft:hExcLeft, excRight:hExcRight, weakLeft:hWeakLeft, weakRight:hWeakRight,
  strayGreenT:hStrayGreenTimes, strayGreenN:hStrayGreenNeurons, strayRedT:hStrayRedTimes, strayRedN:hStrayRedNeurons
});
</script>
</body>
</html>
